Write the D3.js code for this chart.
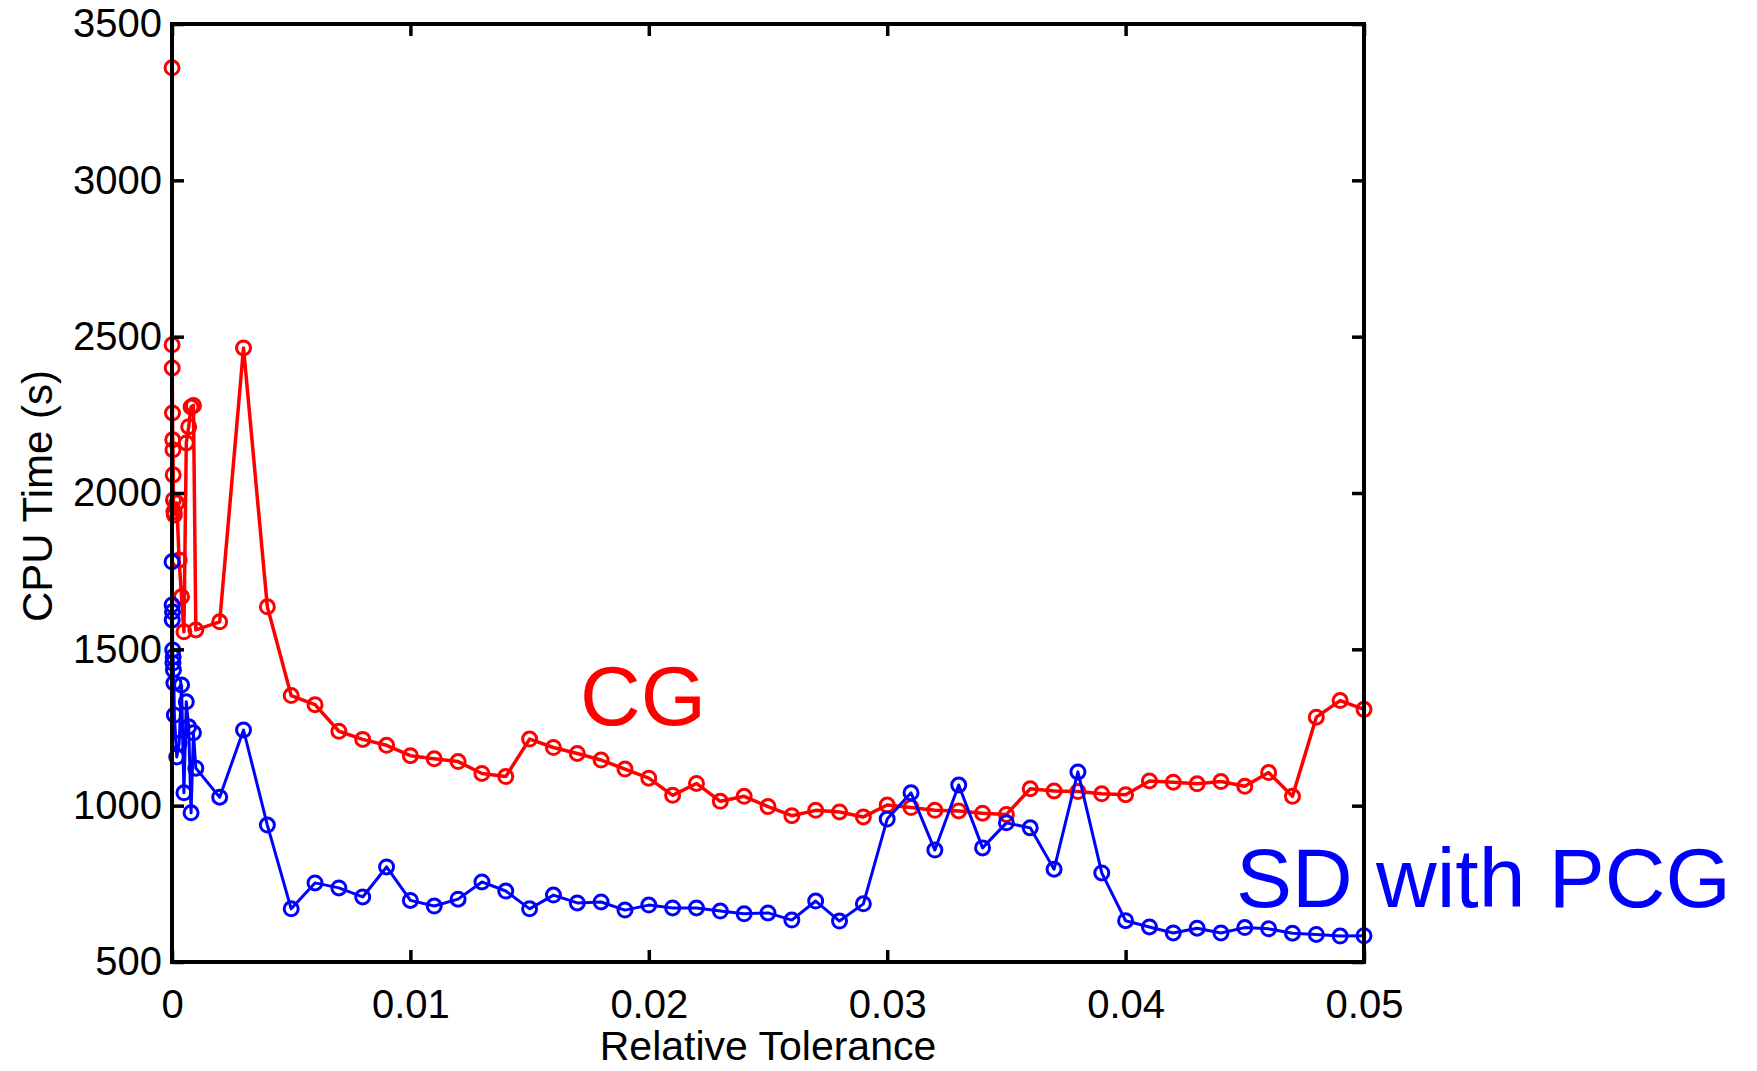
<!DOCTYPE html>
<html>
<head>
<meta charset="utf-8">
<script src="https://cdn.jsdelivr.net/npm/d3@7"></script>
<style>
  body { margin: 0; background: #fff; }
  svg text { font-family: Arial, "Liberation Sans", sans-serif; }
</style>
</head>
<body>
<script>
// CG (red) - relative tolerance vs cpu time
var cgTol = [0.000001, 0.000005, 0.00001, 0.00002, 0.00003, 0.00004, 0.00005, 0.00006, 0.00008, 0.0001,
  0.0002, 0.0003, 0.0004, 0.0005, 0.0006, 0.0007, 0.0008, 0.0009, 0.001,
  0.002, 0.003, 0.004, 0.005, 0.006, 0.007, 0.008, 0.009, 0.010,
  0.011, 0.012, 0.013, 0.014, 0.015, 0.016, 0.017, 0.018, 0.019, 0.020,
  0.021, 0.022, 0.023, 0.024, 0.025, 0.026, 0.027, 0.028, 0.029, 0.030,
  0.031, 0.032, 0.033, 0.034, 0.035, 0.036, 0.037, 0.038, 0.039, 0.040,
  0.041, 0.042, 0.043, 0.044, 0.045, 0.046, 0.047, 0.048, 0.049, 0.050];
var cgTime = [3360, 2474, 2400, 2256, 2170, 2138, 2058, 1978, 1940, 1930,
  1968, 1786, 1668, 1556, 2160, 2212, 2275, 2280, 1562,
  1588, 2464, 1636, 1352, 1323, 1238, 1212, 1193, 1160,
  1150, 1141, 1103, 1093, 1213, 1186, 1167, 1146, 1117, 1088,
  1033, 1071, 1014, 1030, 997, 968, 985, 980, 964, 1002,
  994, 985, 983, 976, 972, 1054, 1047, 1045, 1038, 1035,
  1079, 1075, 1070, 1077, 1062, 1106, 1030, 1283, 1336, 1308];

// SD with PCG (blue)
var sdTol = [0.000001, 0.000005, 0.00001, 0.00002, 0.00003, 0.00004, 0.00005, 0.00006, 0.00008, 0.0001,
  0.0002, 0.0003, 0.0004, 0.0005, 0.0006, 0.0007, 0.0008, 0.0009, 0.001,
  0.002, 0.003, 0.004, 0.005, 0.006, 0.007, 0.008, 0.009, 0.010,
  0.011, 0.012, 0.013, 0.014, 0.015, 0.016, 0.017, 0.018, 0.019, 0.020,
  0.021, 0.022, 0.023, 0.024, 0.025, 0.026, 0.027, 0.028, 0.029, 0.030,
  0.031, 0.032, 0.033, 0.034, 0.035, 0.036, 0.037, 0.038, 0.039, 0.040,
  0.041, 0.042, 0.043, 0.044, 0.045, 0.046, 0.047, 0.048, 0.049, 0.050];
var sdTime = [1780, 1642, 1594, 1620, 1498, 1456, 1476, 1434, 1392, 1290,
  1156, 1200, 1386, 1041, 1332, 1252, 977, 1233, 1120,
  1027, 1242, 938, 670, 753, 737, 708, 804, 697,
  679, 701, 756, 727, 670, 714, 689, 692, 666, 682,
  673, 673, 663, 654, 657, 634, 695, 631, 686, 957,
  1041, 858, 1066, 865, 945, 929, 797, 1108, 785, 632,
  612, 593, 608, 593, 610, 606, 592, 588, 583, 584];

var xTicks = [0, 0.01, 0.02, 0.03, 0.04, 0.05];
var yTicks = [500, 1000, 1500, 2000, 2500, 3000, 3500];

var width = 1757, height = 1071;
var margin = {top: 24, right: 393, bottom: 109, left: 172};
var w = width - margin.left - margin.right,
    h = height - margin.top - margin.bottom;

var svg = d3.select("body").append("svg")
  .attr("width", width)
  .attr("height", height);

var g = svg.append("g")
  .attr("transform", "translate(" + margin.left + "," + margin.top + ")");

var x = d3.scaleLinear().domain([0, 0.05]).range([0, w]);
var y = d3.scaleLinear().domain([500, 3500]).range([h, 0]);

function series(tol, time, color, lw) {
  var pts = tol.map(function(t, i) { return {t: t, v: time[i]}; });
  var line = d3.line()
    .x(function(d) { return x(d.t); })
    .y(function(d) { return y(d.v); });
  g.append("path")
    .datum(pts)
    .attr("d", line)
    .attr("fill", "none")
    .attr("stroke", color)
    .attr("stroke-width", lw)
    .attr("stroke-linejoin", "round");
  g.append("g").selectAll("circle")
    .data(pts)
    .enter().append("circle")
    .attr("cx", function(d) { return x(d.t); })
    .attr("cy", function(d) { return y(d.v); })
    .attr("r", 7)
    .attr("fill", "none")
    .attr("stroke", color)
    .attr("stroke-width", 3);
}

series(cgTol, cgTime, "#ff0000", 3.5);
series(sdTol, sdTime, "#0000ff", 3);

// axes, matlab style ticks pointing in
var fmtX = function(d) { return d === 0 ? "0" : d3.format(".2f")(d); };

g.append("g")
  .attr("transform", "translate(0," + h + ")")
  .call(d3.axisBottom(x).tickValues(xTicks).tickFormat(fmtX).tickSize(-12).tickPadding(28))
  .call(function(a) { a.select(".domain").remove(); });

g.append("g")
  .call(d3.axisLeft(y).tickValues(yTicks).tickFormat(d3.format("d")).tickSize(-12).tickPadding(10))
  .call(function(a) { a.select(".domain").remove(); });

g.append("g")
  .call(d3.axisTop(x).tickValues(xTicks).tickFormat("").tickSize(-12))
  .call(function(a) { a.select(".domain").remove(); });

g.append("g")
  .attr("transform", "translate(" + w + ",0)")
  .call(d3.axisRight(y).tickValues(yTicks).tickFormat("").tickSize(-12))
  .call(function(a) { a.select(".domain").remove(); });

g.selectAll(".tick line").attr("stroke", "#000").attr("stroke-width", 3.5);
g.selectAll(".tick text")
  .attr("fill", "#000")
  .style("font-size", "40px");

g.append("rect")
  .attr("width", w)
  .attr("height", h)
  .attr("fill", "none")
  .attr("stroke", "#000")
  .attr("stroke-width", 4);

// axis titles
svg.append("text")
  .attr("x", margin.left + w / 2)
  .attr("y", 1060)
  .attr("text-anchor", "middle")
  .style("font-size", "41px")
  .text("Relative Tolerance");

svg.append("text")
  .attr("transform", "translate(52,496) rotate(-90)")
  .attr("text-anchor", "middle")
  .style("font-size", "42px")
  .text("CPU Time (s)");

// series labels
svg.append("text")
  .attr("x", 580)
  .attr("y", 725)
  .attr("fill", "#ff0000")
  .style("font-size", "84px")
  .text("CG");

svg.append("text")
  .attr("x", 1236)
  .attr("y", 907)
  .attr("fill", "#0000ff")
  .style("font-size", "84px")
  .text("SD with PCG");
</script>
</body>
</html>
